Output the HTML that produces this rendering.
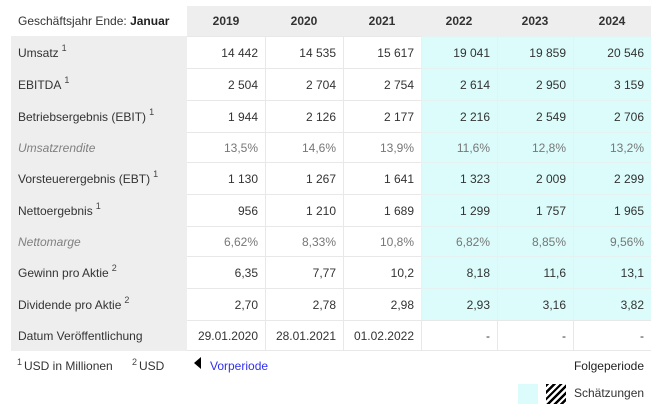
<!DOCTYPE html>
<html><head><meta charset="utf-8">
<style>
*{box-sizing:border-box;margin:0;padding:0}
html,body{width:658px;height:418px;background:#fff;overflow:hidden}
body{font-family:"Liberation Sans",Arial,sans-serif;font-size:12px;color:#333;position:relative}
.g{position:absolute;left:11px;top:6px;display:grid;
grid-template-columns:176px 78px 78px 78px 76px 76px 78px;
grid-template-rows:30px 32px 32px 32px 30px 32px 32px 30px 32px 32px 31px}
.g>div{display:flex;align-items:center;white-space:nowrap}
.hl{background:#fff;padding-left:7px}
.hy{background:#eee;justify-content:center;font-weight:bold}
.l{background:#eee;padding-left:7px;border-top:1px solid #eee}
.n{justify-content:flex-end;padding-right:7px;border-top:1px solid #e8e8e8;border-left:1px solid #e8e8e8;background:#fff}
.f{border-left:none}
.c{background:#dbfcfb;border-color:#e6f1f1}
.i{font-style:italic;color:#808080}
.ni{color:#777}
.last{border-bottom:1px solid #e8e8e8}
.l.last{border-bottom:1px solid #eee}
sup{font-size:9px;vertical-align:baseline;position:relative;top:-5px;line-height:0;margin-left:3px;color:#444}
.ft{position:absolute;white-space:nowrap;line-height:14px}
.ft sup{margin-left:0;margin-right:2px;top:-5px}
</style></head><body>
<div class="g">
<div class="hl">Geschäftsjahr Ende:&nbsp;<b style="color:#222">Januar</b></div>
<div class="hy">2019</div><div class="hy">2020</div><div class="hy">2021</div><div class="hy">2022</div><div class="hy">2023</div><div class="hy">2024</div>

<div class="l">Umsatz<sup>1</sup></div>
<div class="n f">14 442</div><div class="n">14 535</div><div class="n">15 617</div><div class="n c">19 041</div><div class="n c">19 859</div><div class="n c">20 546</div>

<div class="l">EBITDA<sup>1</sup></div>
<div class="n f">2 504</div><div class="n">2 704</div><div class="n">2 754</div><div class="n c">2 614</div><div class="n c">2 950</div><div class="n c">3 159</div>

<div class="l">Betriebsergebnis (EBIT)<sup>1</sup></div>
<div class="n f">1 944</div><div class="n">2 126</div><div class="n">2 177</div><div class="n c">2 216</div><div class="n c">2 549</div><div class="n c">2 706</div>

<div class="l i">Umsatzrendite</div>
<div class="n f ni">13,5%</div><div class="n ni">14,6%</div><div class="n ni">13,9%</div><div class="n c ni">11,6%</div><div class="n c ni">12,8%</div><div class="n c ni">13,2%</div>

<div class="l">Vorsteuerergebnis (EBT)<sup>1</sup></div>
<div class="n f">1 130</div><div class="n">1 267</div><div class="n">1 641</div><div class="n c">1 323</div><div class="n c">2 009</div><div class="n c">2 299</div>

<div class="l">Nettoergebnis<sup>1</sup></div>
<div class="n f">956</div><div class="n">1 210</div><div class="n">1 689</div><div class="n c">1 299</div><div class="n c">1 757</div><div class="n c">1 965</div>

<div class="l i">Nettomarge</div>
<div class="n f ni">6,62%</div><div class="n ni">8,33%</div><div class="n ni">10,8%</div><div class="n c ni">6,82%</div><div class="n c ni">8,85%</div><div class="n c ni">9,56%</div>

<div class="l">Gewinn pro Aktie<sup>2</sup></div>
<div class="n f">6,35</div><div class="n">7,77</div><div class="n">10,2</div><div class="n c">8,18</div><div class="n c">11,6</div><div class="n c">13,1</div>

<div class="l">Dividende pro Aktie<sup>2</sup></div>
<div class="n f">2,70</div><div class="n">2,78</div><div class="n">2,98</div><div class="n c">2,93</div><div class="n c">3,16</div><div class="n c">3,82</div>

<div class="l last">Datum Veröffentlichung</div>
<div class="n f last">29.01.2020</div><div class="n last">28.01.2021</div><div class="n last">01.02.2022</div><div class="n last">-</div><div class="n last">-</div><div class="n last">-</div>
</div>

<div class="ft" style="left:17px;top:359px"><sup>1</sup>USD in Millionen</div>
<div class="ft" style="left:132px;top:359px"><sup>2</sup>USD</div>
<div style="position:absolute;left:194px;top:357px;width:0;height:0;border-right:7px solid #000;border-top:6.5px solid transparent;border-bottom:6.5px solid transparent"></div>
<div class="ft" style="left:210px;top:359px;color:#3030f0">Vorperiode</div>
<div class="ft" style="right:14px;top:359px;color:#222">Folgeperiode</div>

<div style="position:absolute;left:518px;top:384px;width:20px;height:20px;background:#dbfcfb"></div>
<div style="position:absolute;left:546px;top:384px;width:20px;height:20px;background:repeating-linear-gradient(135deg,#000 0 2.4px,#fff 2.4px 4.8px)"></div>
<div class="ft" style="left:574px;top:386px;color:#333">Schätzungen</div>
</body></html>
